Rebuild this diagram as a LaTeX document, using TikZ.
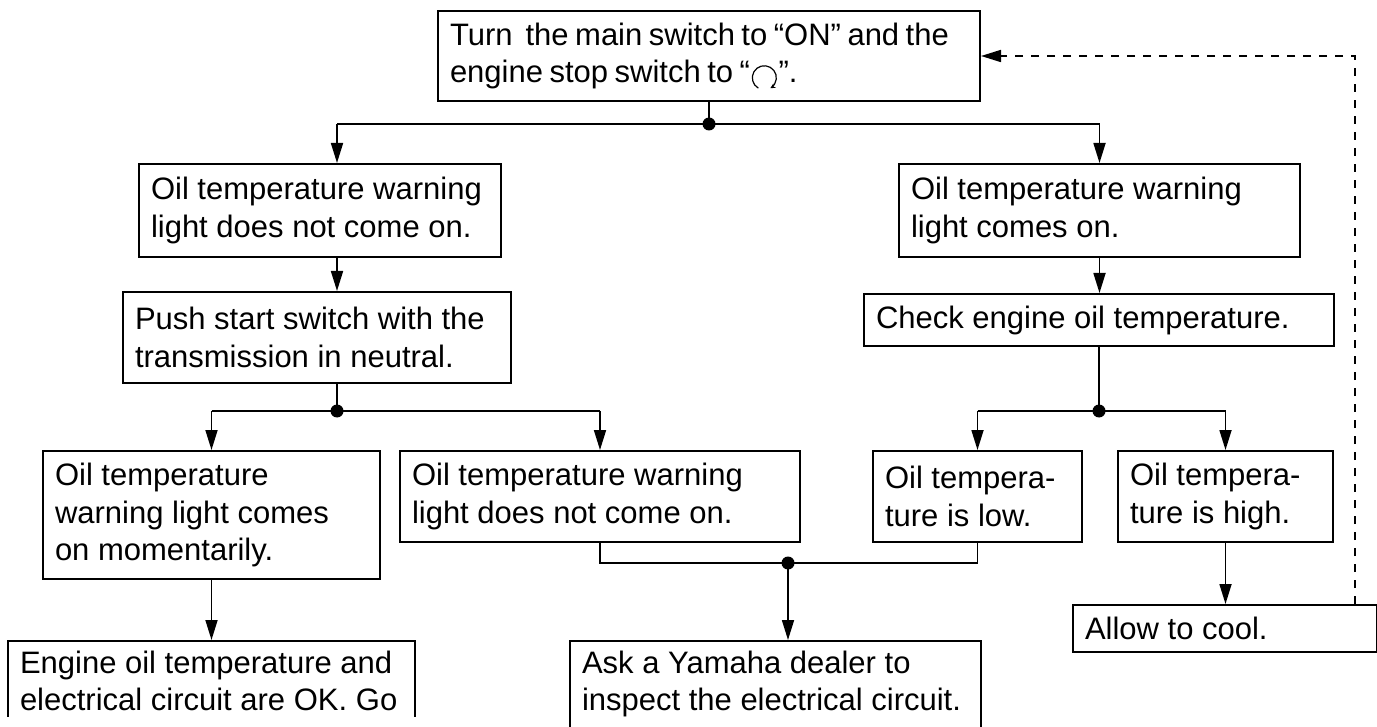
\documentclass[tikz,border=0pt]{standalone}
\usepackage{fontspec}
\setmainfont{Liberation Sans}
\usetikzlibrary{arrows.meta}
\newcommand{\boxfont}{\fontsize{15.5}{18.75}\selectfont}
\newcommand{\runmark}{\tikz[baseline=-2.5pt, x=1pt, y=1pt, line width=0.6pt]
  \draw[-{Stealth[length=2.5pt, width=2.5pt]}] (240:6pt) arc[start angle=240, end angle=-60, radius=6pt];}
\newcommand{\cutoff}{\rule[-14pt]{0pt}{0pt}}
\tikzset{
  stepbox/.style={draw, line width=1pt, rectangle, anchor=north west,
    align=left, inner xsep=6pt, inner ysep=2pt, font=\boxfont,
    execute at begin node={\spaceskip=0pt}},
  wire/.style={line width=0.85pt},
  flow/.style={wire, -{Triangle[length=10pt, width=6pt]}},
  loopback/.style={flow, dash pattern=on 4pt off 4pt}
}

\begin{document}
\begin{tikzpicture}[x=0.5pt, y=-0.5pt]
  \useasboundingbox (0,0) rectangle (1377,727);
  \clip (0,0) rectangle (1377,727);

  \node[stepbox, text width=259pt, minimum height=45pt,
    execute at begin node={\spaceskip=0.21em plus 0.1em minus 0.05em}] (start) at (437,10)
    {Turn~ the main switch to “ON” and the\\ engine stop switch to “\runmark”.};
  \node[stepbox, text width=169pt, minimum height=46.5pt] (dark) at (138,163)
    {Oil temperature warning\\ light does not come on.};
  \node[stepbox, text width=188.5pt, minimum height=46.5pt] (lit) at (898,163)
    {Oil temperature warning\\ light comes on.};
  \node[stepbox, text width=182pt, minimum height=45.5pt] (push) at (122,291)
    {Push start switch with the\\ transmission in neutral.};
  \node[stepbox, text width=223pt, minimum height=26pt] (check) at (863,293)
    {Check engine oil temperature.};
  \node[stepbox, text width=156.5pt, minimum height=64pt] (blink) at (42,450)
    {Oil temperature\\ warning light comes\\ on momentarily.};
  \node[stepbox, text width=188pt, minimum height=45.5pt] (nolight) at (399,450)
    {Oil temperature warning\\ light does not come on.};
  \node[stepbox, text width=92.5pt, minimum height=45.5pt] (low) at (872,450)
    {Oil tempera-\\ ture is low.};
  \node[stepbox, text width=95.5pt, minimum height=45.5pt] (high) at (1117,450)
    {Oil tempera-\\ ture is high.};
  \node[stepbox, text width=140pt, minimum height=23.5pt] (cool) at (1072,604)
    {Allow to cool.};
  \node[stepbox, text width=193.5pt, inner ysep=5pt] (dealer) at (569,640)
    {Ask a Yamaha dealer to\\ inspect the electrical circuit.\cutoff};
  \begin{scope}
    \clip (0,0) rectangle (1377,716);
    \node[stepbox, text width=191.5pt, inner ysep=5pt] (ok) at (7,640)
      {Engine oil temperature and\\ electrical circuit are OK. Go\cutoff};
  \end{scope}

  % junctions
  \coordinate (lcol) at (337,124);
  \coordinate (j1) at (start.south |- lcol);
  \coordinate (j2) at (337,411);
  \coordinate (j3) at (check.south |- j2);
  \coordinate (j4) at (788,563);
  \coordinate (ret) at (1355,0);

  \draw[wire] (start.south) -- (j1);
  \draw[wire] (lcol) -- (j1 -| lit.north);
  \draw[flow] (lcol) -- (lcol |- dark.north);
  \draw[flow] (j1 -| lit.north) -- (lit.north);
  \draw[flow] (lcol |- dark.south) -- (lcol |- push.north);
  \draw[wire] (lcol |- push.south) -- (j2);
  \draw[wire] (j2 -| blink.north) -- (j2 -| nolight.north);
  \draw[flow] (j2 -| blink.north) -- (blink.north);
  \draw[flow] (j2 -| nolight.north) -- (nolight.north);
  \draw[flow] (blink.south) -- (ok.north);
  \draw[flow] (lit.south) -- (lit.south |- check.north);
  \draw[wire] (check.south) -- (j3);
  \draw[wire] (j3 -| low.north) -- (j3 -| high.north);
  \draw[flow] (j3 -| low.north) -- (low.north);
  \draw[flow] (j3 -| high.north) -- (high.north);
  \draw[wire] (nolight.south) |- (j4) -| (low.south);
  \draw[flow] (j4) -- (j4 |- dealer.north);
  \draw[flow] (high.south) -- (high.south |- cool.north);
  \draw[loopback] (cool.north -| ret) |- (start.east);
  \foreach \j in {j1,j2,j3,j4}
    \fill (\j) circle[radius=3.25pt];
\end{tikzpicture}
\end{document}
